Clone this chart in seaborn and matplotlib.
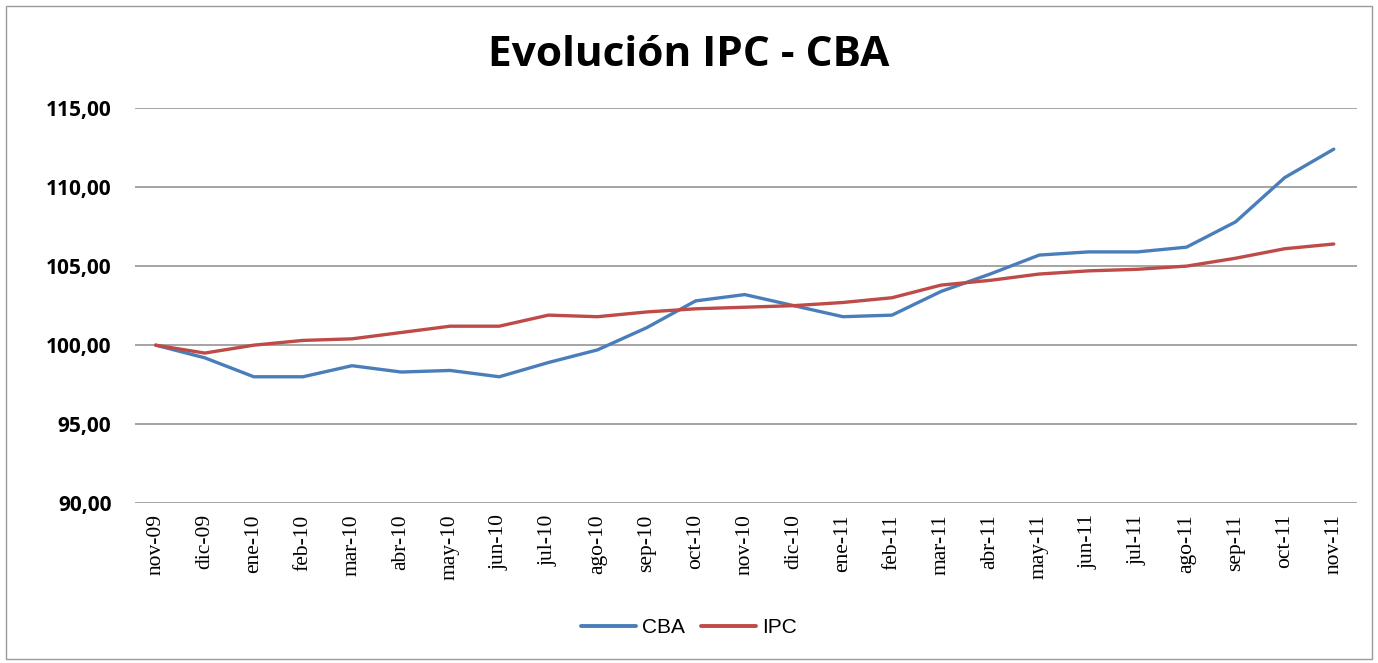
import matplotlib
matplotlib.use("Agg")
import matplotlib.pyplot as plt
import seaborn as sns
import pandas as pd
from matplotlib.ticker import FuncFormatter, FixedLocator
from matplotlib.patches import Rectangle
from matplotlib.lines import Line2D

months = ["nov-09", "dic-09", "ene-10", "feb-10", "mar-10", "abr-10", "may-10",
          "jun-10", "jul-10", "ago-10", "sep-10", "oct-10", "nov-10", "dic-10",
          "ene-11", "feb-11", "mar-11", "abr-11", "may-11", "jun-11", "jul-11",
          "ago-11", "sep-11", "oct-11", "nov-11"]
cba = [100.0, 99.2, 98.0, 98.0, 98.7, 98.3, 98.4, 98.0, 98.9, 99.7, 101.1,
       102.8, 103.2, 102.5, 101.8, 101.9, 103.4, 104.5, 105.7, 105.9, 105.9,
       106.2, 107.8, 110.6, 112.4]
ipc = [100.0, 99.5, 100.0, 100.3, 100.4, 100.8, 101.2, 101.2, 101.9, 101.8,
       102.1, 102.3, 102.4, 102.5, 102.7, 103.0, 103.8, 104.1, 104.5, 104.7,
       104.8, 105.0, 105.5, 106.1, 106.4]
series_names = ["CBA", "IPC"]
yticks = [90, 95, 100, 105, 110, 115]

df = pd.DataFrame({
    "idx": list(range(len(months))) * 2,
    "valor": cba + ipc,
    "serie": [series_names[0]] * len(months) + [series_names[1]] * len(months),
})

sns.set_theme(style="white")
plt.rcParams["font.family"] = ["Open Sans", "DejaVu Sans"]
plt.rcParams["text.color"] = "black"

fig = plt.figure(figsize=(13.78, 6.63), dpi=100)
ax = fig.add_axes([0.098, 0.241, 0.887, 0.596])

palette = {"CBA": "#4A7EBB", "IPC": "#BE4B48"}
sns.lineplot(data=df, x="idx", y="valor", hue="serie", palette=palette,
             linewidth=2.4, ax=ax, legend=False)

ax.set_ylim(90, 115)
ax.set_xlim(-0.42, len(months) - 1 + 0.48)
ax.yaxis.set_major_locator(FixedLocator(yticks))
ax.yaxis.set_major_formatter(FuncFormatter(lambda v, p: f"{v:.2f}".replace(".", ",")))
ax.set_xticks(range(len(months)))
ax.set_xticklabels(months, rotation=90, fontsize=15.5, color="black",
                   family=["Liberation Serif", "DejaVu Serif"])
for lab in ax.get_yticklabels():
    lab.set_fontsize(15)
    lab.set_fontweight("bold")
    lab.set_color("black")
ax.tick_params(axis="y", pad=17, length=0)
ax.tick_params(axis="x", pad=8, length=0)
ax.grid(axis="y", color="#8c8c8c", linewidth=1.1)
ax.grid(axis="x", visible=False)
for s in ax.spines.values():
    s.set_visible(False)
ax.set_xlabel("")
ax.set_ylabel("")

fig.text(0.5, 0.917, "Evolución IPC - CBA", ha="center", va="center",
         fontsize=30.5, fontweight="bold", color="black")

handles = [Line2D([], [], color=palette[n], linewidth=2.8) for n in series_names]
fig.legend(handles, series_names, loc="center", bbox_to_anchor=(0.5, 0.053),
           ncol=2, frameon=False, handlelength=2.6,
           columnspacing=0.8, handletextpad=0.3,
           prop={"family": ["Liberation Sans Narrow", "Liberation Sans", "DejaVu Sans"], "size": 15})

fig.patches.append(Rectangle((0.004, 0.006), 0.992, 0.985, transform=fig.transFigure,
                             fill=False, edgecolor="#9a9a9a", linewidth=1.0))

fig.savefig("out.png", dpi=100, facecolor="white")
